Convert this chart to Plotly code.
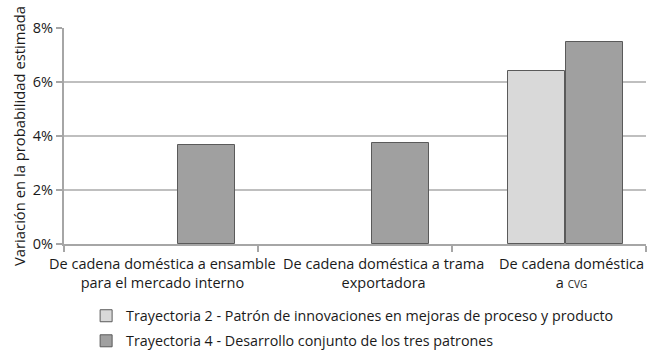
import plotly.graph_objects as go

categories = [
    "De cadena doméstica a ensamble<br>para el mercado interno",
    "De cadena doméstica a trama<br>exportadora",
    "De cadena doméstica<br>a <span style='font-size:10px'>CVG</span>",
]
series_names = [
    "Trayectoria 2 - Patrón de innovaciones en mejoras de proceso y producto",
    "Trayectoria 4 - Desarrollo conjunto de los tres patrones",
]
t2_values = [None, None, 0.0641]
t4_values = [0.0367, 0.0374, 0.0748]
y_ticks = [0, 0.02, 0.04, 0.06, 0.08]
y_ticklabels = ["0%", "2%", "4%", "6%", "8%"]
label_xshifts = [1, 28, 22]

FONT = "Open Sans"
fig = go.Figure()
fig.add_trace(go.Bar(
    x=categories, y=t2_values, name=series_names[0], legend="legend",
    marker=dict(color="#d9d9d9", line=dict(color="#5a5a5a", width=1)),
    offset=-0.21, width=0.295,
))
fig.add_trace(go.Bar(
    x=categories, y=t4_values, name=series_names[1], legend="legend2",
    marker=dict(color="#a0a0a0", line=dict(color="#5a5a5a", width=1)),
    offset=0.09, width=0.29,
))
leg = dict(xanchor="left", yanchor="top", font=dict(size=14.3), itemwidth=30,
           bgcolor="rgba(0,0,0,0)")
fig.update_layout(
    width=651, height=356,
    margin=dict(l=64, r=5, t=28, b=112, autoexpand=False),
    plot_bgcolor="white", paper_bgcolor="white",
    font=dict(family=FONT, size=14, color="#1a1a1a"),
    showlegend=True,
    legend=dict(x=0.038, y=-0.259, **leg),
    legend2=dict(x=0.038, y=-0.375, **leg),
    bargap=0, barmode="overlay",
)
for cat, dx in zip(categories, label_xshifts):
    fig.add_annotation(x=cat, y=0, xref="x", yref="paper", yanchor="top",
                       xanchor="center", align="center", text=cat, showarrow=False,
                       xshift=dx, yshift=-8, font=dict(size=14.5, color="#1a1a1a"))
fig.update_xaxes(
    type="category", range=[-0.5, 2.5], automargin=False, tickangle=0,
    showline=True, linecolor="#a6a6a6", linewidth=2, showticklabels=False,
    ticks="outside", tickson="boundaries", ticklen=6, tickcolor="#a6a6a6", tickwidth=2,
    showgrid=False,
)
fig.update_yaxes(
    range=[0, 0.08], tickvals=y_ticks, ticktext=y_ticklabels, automargin=False,
    showgrid=True, gridcolor="#bfbfbf", gridwidth=2,
    showline=True, linecolor="#a6a6a6", linewidth=2,
    ticks="outside", ticklen=6, tickcolor="#a6a6a6", tickwidth=2,
    zeroline=False,
    title=dict(text="Variación en la probabilidad estimada", font=dict(size=14.8), standoff=4),
    tickfont=dict(size=14.5),
)
fig.write_html(
    "out.html",
    config={"displayModeBar": False},
    post_script="document.body.style.margin='0';document.body.style.overflow='hidden';",
)
